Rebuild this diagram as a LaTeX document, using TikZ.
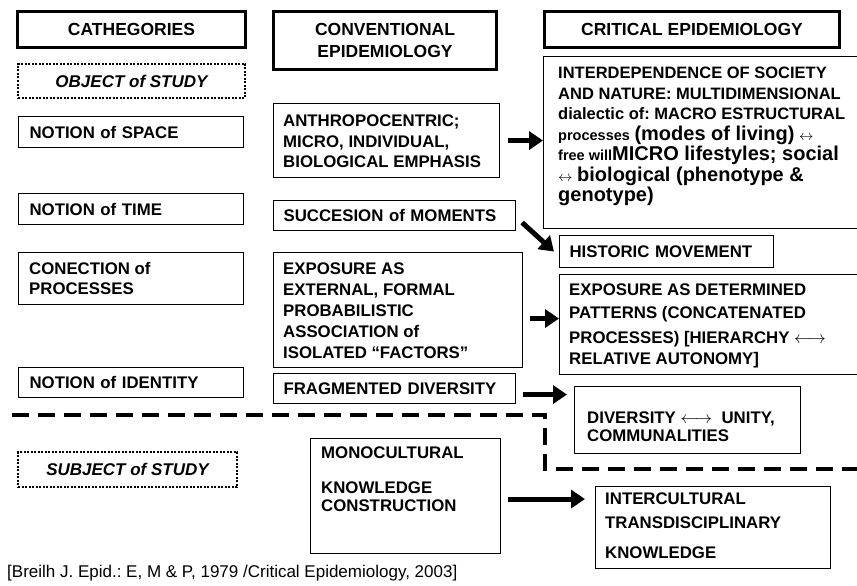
\documentclass[tikz,border=0pt]{standalone}
\usepackage{fontspec}
\setmainfont{Liberation Sans}
\usetikzlibrary{arrows.meta,calc}
\newcommand\smf{\fontsize{14.5}{20.5}\selectfont}
\newcommand\lgf{\fontsize{20}{20.5}\selectfont}
\newcommand\arf{\fontsize{14.5}{20.5}\selectfont}
\frenchspacing
\begin{document}
\begin{tikzpicture}[x=1pt,y=-1pt,
  bfont/.style={font=\fontsize{16.8}{20.5}\selectfont\bfseries},
  box/.style={draw, line width=1.1pt, anchor=north west, inner sep=0pt},
  lbox/.style={box, inner xsep=11pt, align=left, bfont},
  tbox/.style={draw, line width=3pt, anchor=north west, inner sep=0pt, align=center, font=\fontsize{17.5}{21}\selectfont\bfseries},
  dbox/.style={draw, line width=2pt, dash pattern=on 2pt off 1.5pt, anchor=north west, inner sep=0pt, font=\fontsize{17}{20.5}\selectfont\bfseries\itshape},
  txt/.style={anchor=north west, inner sep=0pt, align=left, bfont},
  bigarrow/.style={line width=5pt, -{Triangle[length=14pt,width=18pt]}},
  divline/.style={line width=3.5pt, dash pattern=on 17pt off 9pt}]
\useasboundingbox (0,0) rectangle (857,586);

% title boxes
\node[tbox, minimum width=228pt, minimum height=36pt] (cat) at (16,10) {CATHEGORIES};
\node[tbox, minimum width=223pt, minimum height=58pt] (conv) at (272,10) {CONVENTIONAL\\[1pt]EPIDEMIOLOGY};
\node[tbox, minimum width=295pt, minimum height=36pt] (crit) at (543,10) {CRITICAL EPIDEMIOLOGY};

% left column
\node[dbox, minimum width=227pt, minimum height=34pt] (obj) at (17,63) {OBJECT of STUDY};
\node[lbox, text width=203pt, minimum height=31pt] (space) at (18,116) {NOTION of SPACE};
\node[lbox, text width=203pt, minimum height=31pt] (time) at (18,193) {NOTION of TIME};
\node[box, minimum width=225pt, minimum height=52pt] (conec) at (18,252) {};
\node[txt] (conect) at (29,262) {CONECTION of\\PROCESSES};
\node[lbox, text width=203pt, minimum height=30pt] (ident) at (18,367) {NOTION of IDENTITY};
\node[dbox, minimum width=219pt, minimum height=35pt] (subj) at (17,451) {SUBJECT of STUDY};

% middle column
\node[box, minimum width=226pt, minimum height=74pt] (anth) at (273,103) {};
\node[txt] (antht) at (283,115) {ANTHROPOCENTRIC;\\MICRO, INDIVIDUAL,\\BIOLOGICAL EMPHASIS};
\node[lbox, inner xsep=10pt, text width=222pt, minimum height=30pt] (succ) at (273,200) {SUCCESION of MOMENTS};
\node[box, minimum width=249pt, minimum height=115pt] (ext) at (273,252) {};
\node[txt, font=\fontsize{16.8}{21}\selectfont\bfseries] (extt) at (283,263) {EXPOSURE AS\\EXTERNAL, FORMAL\\PROBABILISTIC\\ASSOCIATION of\\ISOLATED “FACTORS”};
\node[lbox, inner xsep=10pt, text width=222pt, minimum height=30pt] (frag) at (273,373) {FRAGMENTED DIVERSITY};
\node[box, minimum width=190pt, minimum height=115pt] (mono) at (310,438) {};
\node[txt] (monot) at (321,447) {MONOCULTURAL\\[14.5pt]KNOWLEDGE\\[-2.5pt]CONSTRUCTION};

% right column
\node[box, minimum width=330pt, minimum height=172pt] (inter) at (543,56) {};
\node[txt, font=\fontsize{16.5}{20.5}\selectfont\bfseries] (intert) at (558,67) {INTERDEPENDENCE OF SOCIETY\\AND NATURE: MULTIDIMENSIONAL\\dialectic of: MACRO ESTRUCTURAL\\{\smf processes} {\lgf (modes of living)} {\arf$\leftrightarrow$}\\{\smf free will}{\lgf MICRO lifestyles; social}\\{\arf$\leftrightarrow$} {\lgf biological (phenotype \&}\\{\lgf genotype)}};
\node[lbox, inner xsep=10pt, text width=194pt, minimum height=32pt] (hist) at (559,235) {HISTORIC MOVEMENT};
\node[box, minimum width=320pt, minimum height=100pt] (det) at (559,274) {};
\node[txt] (dett) at (569,284) {EXPOSURE AS DETERMINED\\[2.5pt]PATTERNS (CONCATENATED\\[4.5pt]PROCESSES) [HIERARCHY $\longleftrightarrow$\\[0.5pt]RELATIVE AUTONOMY]};
\node[box, minimum width=226pt, minimum height=67pt] (div) at (574,386) {};
\node[txt] (divt) at (587,412) {DIVERSITY $\longleftrightarrow$\ \ UNITY,\\[-2.5pt]COMMUNALITIES};
\node[box, minimum width=235pt, minimum height=82pt] (intc) at (595,486) {};
\node[txt] (intct) at (605,493) {INTERCULTURAL\\[3.5pt]TRANSDISCIPLINARY\\[9.5pt]KNOWLEDGE};

% dashed divider
\coordinate (d1) at (12,415);
\coordinate (d2) at (545,415);
\coordinate (d3) at (545,469);
\coordinate (d4) at (862,469);
\draw[divline] (d1) -- (d2) -- (d3) -- (d4);

% arrows
\draw[bigarrow] ($(anth.east)+(8pt,0pt)$) -- (anth.east -| inter.west);
\draw[bigarrow] ($(succ.east)+(6pt,-7pt)$) -- ($(hist.west)+(-5pt,0pt)$);
\draw[bigarrow] ($(ext.east)+(7pt,-8.5pt)$) -- ($(ext.east -| det.west)+(0pt,-8.5pt)$);
\draw[bigarrow] ($(frag.east)+(7pt,-6pt)$) -- ($(frag.east -| div.west)+(-7pt,-6pt)$);
\draw[bigarrow] ($(mono.east)+(7pt,-3pt)$) -- ($(mono.east -| intc.west)+(-10pt,-3pt)$);

% citation
\node[anchor=base west, inner sep=0pt, font=\fontsize{17}{20}\selectfont] (cite) at (7,577) {[Breilh J. Epid.: E, M \& P, 1979 /Critical Epidemiology, 2003]};
\end{tikzpicture}
\end{document}
